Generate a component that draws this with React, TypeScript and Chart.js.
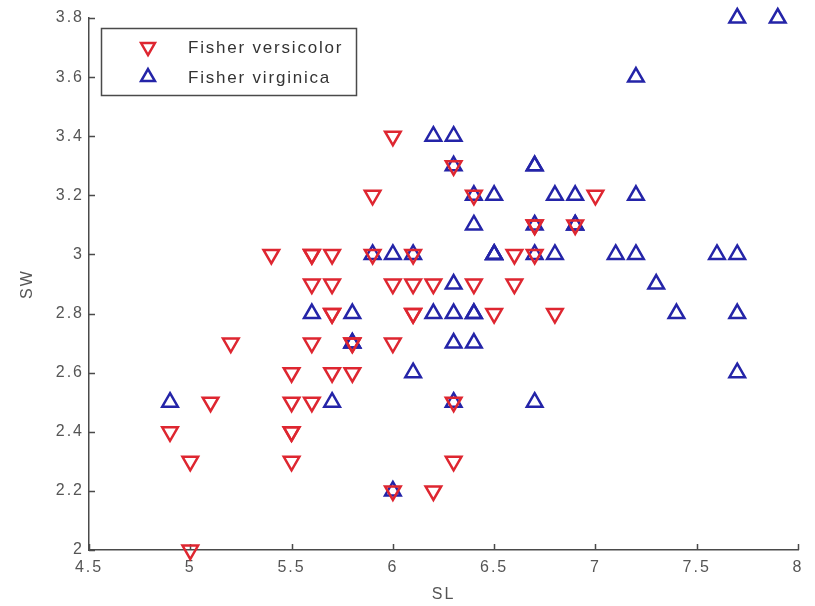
import React, { useEffect, useRef } from 'react';
import { Chart, registerables } from 'chart.js';

Chart.register(...registerables);

// Fisher versicolor (SL, SW)
const versicolorSL = [7.0, 6.4, 6.9, 5.5, 6.5, 5.7, 6.3, 4.9, 6.6, 5.2, 5.0, 5.9, 6.0, 6.1, 5.6, 6.7, 5.6, 5.8, 6.2, 5.6, 5.9, 6.1, 6.3, 6.1, 6.4, 6.6, 6.8, 6.7, 6.0, 5.7, 5.5, 5.5, 5.8, 6.0, 5.4, 6.0, 6.7, 6.3, 5.6, 5.5, 5.5, 6.1, 5.8, 5.0, 5.6, 5.7, 5.7, 6.2, 5.1, 5.7];
const versicolorSW = [3.2, 3.2, 3.1, 2.3, 2.8, 2.8, 3.3, 2.4, 2.9, 2.7, 2.0, 3.0, 2.2, 2.9, 2.9, 3.1, 3.0, 2.7, 2.2, 2.5, 3.2, 2.8, 2.5, 2.8, 2.9, 3.0, 2.8, 3.0, 2.9, 2.6, 2.4, 2.4, 2.7, 2.7, 3.0, 3.4, 3.1, 2.3, 3.0, 2.5, 2.6, 3.0, 2.6, 2.3, 2.7, 3.0, 2.9, 2.9, 2.5, 2.8];

// Fisher virginica (SL, SW)
const virginicaSL = [6.3, 5.8, 7.1, 6.3, 6.5, 7.6, 4.9, 7.3, 6.7, 7.2, 6.5, 6.4, 6.8, 5.7, 5.8, 6.4, 6.5, 7.7, 7.7, 6.0, 6.9, 5.6, 7.7, 6.3, 6.7, 7.2, 6.2, 6.1, 6.4, 7.2, 7.4, 7.9, 6.4, 6.3, 6.1, 7.7, 6.3, 6.4, 6.0, 6.9, 6.7, 6.9, 5.8, 6.8, 6.7, 6.7, 6.3, 6.5, 6.2, 5.9];
const virginicaSW = [3.3, 2.7, 3.0, 2.9, 3.0, 3.0, 2.5, 2.9, 2.5, 3.6, 3.2, 2.7, 3.0, 2.5, 2.8, 3.2, 3.0, 3.8, 2.6, 2.2, 3.2, 2.8, 2.8, 2.7, 3.3, 3.2, 2.8, 3.0, 2.8, 3.0, 2.8, 3.8, 2.8, 2.8, 2.6, 3.0, 3.4, 3.1, 3.0, 3.1, 3.1, 3.1, 2.7, 3.2, 3.3, 3.0, 2.5, 3.0, 3.4, 3.0];

const seriesLabels = ['Fisher versicolor', 'Fisher virginica'];
const xTickValues = [4.5, 5, 5.5, 6, 6.5, 7, 7.5, 8];
const xTickLabels = ['4.5', '5', '5.5', '6', '6.5', '7', '7.5', '8'];
const yTickValues = [2, 2.2, 2.4, 2.6, 2.8, 3, 3.2, 3.4, 3.6, 3.8];
const yTickLabels = ['2', '2.2', '2.4', '2.6', '2.8', '3', '3.2', '3.4', '3.6', '3.8'];
const xTitle = 'SL';
const yTitle = 'SW';

const RED = 'rgb(222,38,48)';
const BLUE = 'rgb(36,36,168)';
const AXIS = '#4a4a4a';
const TEXT = '#555555';
const FONT = "'Liberation Sans', Arial, sans-serif";

const toPoints = (xs: number[], ys: number[]) => xs.map((x, i) => ({ x, y: ys[i] }));

const spacingPlugin = {
  id: 'spacing',
  beforeDraw(chart: any) {
    (chart.ctx as any).letterSpacing = '2px';
  },
};

const inwardTicks = {
  id: 'inwardTicks',
  beforeDatasetsDraw(chart: any) {
    const { ctx, chartArea, scales } = chart;
    const x = scales.x;
    const y = scales.y;
    ctx.save();
    ctx.strokeStyle = AXIS;
    ctx.lineWidth = 1.5;
    ctx.beginPath();
    x.ticks.forEach((t: any) => {
      const px = Math.round(x.getPixelForValue(t.value)) + 0.5;
      ctx.moveTo(px, chartArea.bottom);
      ctx.lineTo(px, chartArea.bottom - 6);
    });
    y.ticks.forEach((t: any) => {
      const py = Math.round(y.getPixelForValue(t.value)) + 0.5;
      ctx.moveTo(chartArea.left, py);
      ctx.lineTo(chartArea.left + 6, py);
    });
    ctx.stroke();
    ctx.restore();
  },
};

function tri(ctx: CanvasRenderingContext2D, cx: number, cy: number, r: number, down: boolean) {
  const s = down ? -1 : 1;
  ctx.beginPath();
  for (let k = 0; k < 3; k++) {
    const a = (k * 2 * Math.PI) / 3;
    const px = cx + Math.sin(a) * r;
    const py = cy - s * Math.cos(a) * r;
    if (k === 0) ctx.moveTo(px, py);
    else ctx.lineTo(px, py);
  }
  ctx.closePath();
  ctx.stroke();
}

const legendBox = {
  id: 'legendBox',
  afterDraw(chart: any) {
    const { ctx, chartArea } = chart;
    const bx = chartArea.left + 12;
    const by = chartArea.top + 10;
    const bw = 255;
    const bh = 67;
    ctx.save();
    ctx.fillStyle = '#ffffff';
    ctx.fillRect(bx, by, bw, bh);
    ctx.strokeStyle = AXIS;
    ctx.lineWidth = 1.5;
    ctx.strokeRect(bx + 0.5, by + 0.5, bw, bh);
    const rows = [by + 19, by + 49];
    chart.data.datasets.forEach((ds: any, i: number) => {
      ctx.strokeStyle = ds.borderColor;
      ctx.lineWidth = 2.5;
      tri(ctx, bx + 47, rows[i], 8, i === 0);
      ctx.fillStyle = '#333333';
      ctx.font = `17px ${FONT}`;
      ctx.textBaseline = 'middle';
      ctx.textAlign = 'left';
      (ctx as any).letterSpacing = '1.8px';
      ctx.fillText(ds.label, bx + 87, rows[i] + 1);
    });
    ctx.restore();
  },
};

export default function App() {
  const ref = useRef<HTMLCanvasElement | null>(null);

  useEffect(() => {
    if (!ref.current) return;
    const chart = new Chart(ref.current, {
      type: 'scatter',
      data: {
        datasets: [
          {
            label: seriesLabels[0],
            data: toPoints(versicolorSL, versicolorSW),
            pointStyle: 'triangle',
            rotation: 180,
            pointRadius: 9,
            pointHoverRadius: 9,
            borderColor: RED,
            backgroundColor: 'rgba(0,0,0,0)',
            pointBorderWidth: 2.5,
            borderWidth: 2.5,
            clip: false,
          } as any,
          {
            label: seriesLabels[1],
            data: toPoints(virginicaSL, virginicaSW),
            pointStyle: 'triangle',
            pointRadius: 9,
            pointHoverRadius: 9,
            borderColor: BLUE,
            backgroundColor: 'rgba(0,0,0,0)',
            pointBorderWidth: 2.5,
            borderWidth: 2.5,
            clip: false,
          } as any,
        ],
      },
      options: {
        responsive: false,
        animation: false,
        layout: { padding: { top: 18, right: 17, left: 0, bottom: 0 } },
        plugins: {
          legend: { display: false },
          tooltip: { enabled: false },
        },
        scales: {
          x: {
            type: 'linear',
            min: 4.5,
            max: 8,
            afterBuildTicks: (s: any) => {
              s.ticks = xTickValues.map((v) => ({ value: v }));
            },
            afterFit: (s: any) => {
              s.height = 56;
            },
            ticks: {
              color: TEXT,
              font: { family: FONT, size: 16 },
              padding: 8,
              maxRotation: 0,
              callback: (v: any) => xTickLabels[xTickValues.indexOf(Number(v))] ?? String(v),
            },
            grid: { display: false, drawTicks: false },
            border: { display: true, color: AXIS, width: 1.5 },
            title: {
              display: true,
              text: xTitle,
              color: TEXT,
              font: { family: FONT, size: 16 },
              padding: { top: 0, bottom: 2 },
            },
          },
          y: {
            type: 'linear',
            min: 2,
            max: 3.8,
            afterBuildTicks: (s: any) => {
              s.ticks = yTickValues.map((v) => ({ value: v }));
            },
            afterFit: (s: any) => {
              s.width = 89;
            },
            ticks: {
              color: TEXT,
              font: { family: FONT, size: 16 },
              padding: 5,
              callback: (v: any) => yTickLabels[yTickValues.indexOf(Number(v))] ?? String(v),
            },
            grid: { display: false, drawTicks: false },
            border: { display: true, color: AXIS, width: 1.5 },
            title: {
              display: true,
              text: yTitle,
              color: TEXT,
              font: { family: FONT, size: 16 },
              padding: { top: 18, bottom: 0 },
            },
          },
        },
      },
      plugins: [spacingPlugin, inwardTicks, legendBox],
    });
    return () => chart.destroy();
  }, []);

  return (
    <div style={{ position: 'absolute', left: 0, top: 0, width: 815, height: 606, background: '#fff' }}>
      <canvas ref={ref} width={815} height={606} style={{ display: 'block' }} />
    </div>
  );
}
